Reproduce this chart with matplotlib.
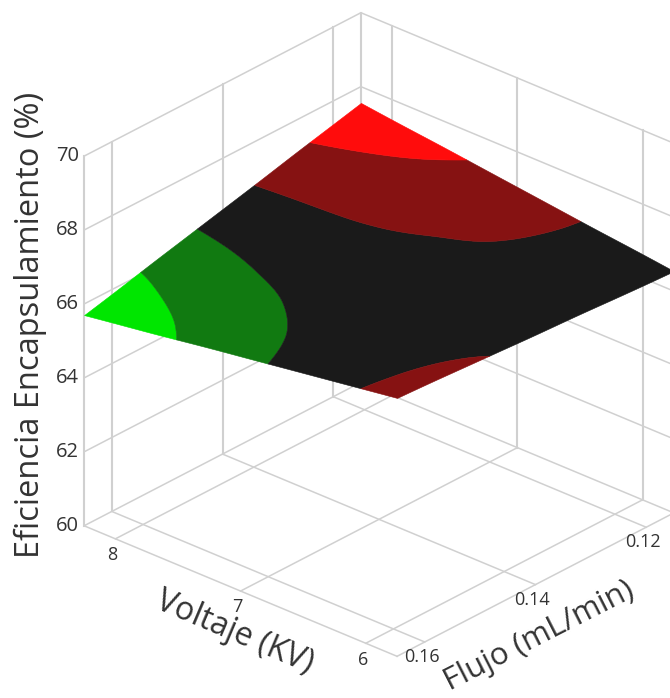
import matplotlib
import matplotlib.tri as mtri
import numpy as np

matplotlib.use("Agg")
import matplotlib.pyplot as plt  # noqa: E402
from mpl_toolkits.mplot3d import proj3d  # noqa: E402
from mpl_toolkits.mplot3d.art3d import Poly3DCollection  # noqa: E402

plt.rcParams["font.family"] = ["Open Sans", "DejaVu Sans"]

# valores
VOLTAJE = [8.25, 7.9375, 7.625, 7.3125, 7.0, 6.6875, 6.375, 6.0625, 5.75]
FLUJO = [0.165, 0.15875, 0.1525, 0.14625, 0.14, 0.13375, 0.1275, 0.12125, 0.115]
EFICIENCIA = [
    [65.70, 65.86, 66.02, 66.19, 66.35, 66.51, 66.67, 66.83, 66.99],
    [65.93, 66.06, 66.18, 66.31, 66.43, 66.56, 66.68, 66.81, 66.94],
    [66.17, 66.25, 66.34, 66.43, 66.52, 66.61, 66.70, 66.79, 66.88],
    [66.40, 66.45, 66.51, 66.56, 66.61, 66.66, 66.71, 66.77, 66.82],
    [66.63, 66.65, 66.67, 66.68, 66.70, 66.71, 66.73, 66.75, 66.76],
    [66.86, 66.84, 66.83, 66.81, 66.78, 66.76, 66.75, 66.73, 66.71],
    [67.10, 67.04, 66.98, 66.93, 66.87, 66.82, 66.76, 66.71, 66.65],
    [67.33, 67.24, 67.15, 67.05, 66.96, 66.87, 66.78, 66.68, 66.59],
    [67.56, 67.43, 67.31, 67.18, 67.05, 66.92, 66.79, 66.67, 66.54],
]
NIVELES = [60, 66.08, 66.46, 66.84, 67.22, 70]
COLORES = ["#00e600", "#117a11", "#1a1a1a", "#861212", "#ff0c0c"]
TICKS_V = [8, 7, 6]
TICKS_F = [0.16, 0.14, 0.12]
TICKS_Z = [60, 62, 64, 66, 68, 70]

GRID = "#d0d0d0"
TEXTO = "#333333"
V_MIN, V_MAX = 5.75, 8.25
F_MIN, F_MAX = 0.115, 0.165
Z_MIN, Z_MAX = 60, 70
ESCALA_F = 50  # deja flujo y voltaje en rangos parecidos para el triangulado


def bandas_superficie():
    """Bandas de color de la superficie como poligonos 3D."""
    vv, ff = np.meshgrid(VOLTAJE, np.array(FLUJO) * ESCALA_F)
    tri = mtri.Triangulation(vv.ravel(), ff.ravel())
    z = np.array(EFICIENCIA).ravel()
    fino, z_fino = mtri.UniformTriRefiner(tri).refine_field(
        z, mtri.CubicTriInterpolator(tri, z, kind="min_E"), subdiv=3)
    interp = mtri.LinearTriInterpolator(fino, z_fino)
    centro = np.array([vv.mean(), ff.mean()])

    fig_aux, ax_aux = plt.subplots()
    bandas = ax_aux.tricontourf(fino, z_fino, levels=NIVELES)
    poligonos = []
    for camino, color in zip(bandas.get_paths(), COLORES):
        for pol in camino.to_polygons():
            if len(pol) < 3:
                continue
            dentro = centro + (pol - centro) * (1 - 1e-6)
            alto = np.ma.filled(interp(dentro[:, 0], dentro[:, 1]), np.nan)
            verts = np.column_stack([pol[:, 0], pol[:, 1] / ESCALA_F, alto])
            poligonos.append((verts, color))
    plt.close(fig_aux)
    return poligonos


def main() -> None:
    poligonos = bandas_superficie()

    fig = plt.figure(figsize=(6.7, 6.98), dpi=100)
    ax = fig.add_axes([18.5 / 670, 3 / 698, 702 / 670, 702 / 698], projection="3d")
    ax.set_proj_type("ortho")
    ax.set_box_aspect((423, 417, 420))
    ax.view_init(elev=27.7, azim=131.9)
    ax.set_xlim(V_MIN, V_MAX, view_margin=0)
    ax.set_ylim(F_MIN, F_MAX, view_margin=0)
    ax.set_zlim(Z_MIN, Z_MAX, view_margin=0)
    ax.set_xticks([])
    ax.set_yticks([])
    ax.set_zticks([])
    ax.set_axis_off()
    ax.patch.set_alpha(0)
    ax.computed_zorder = False

    def linea(xs, ys, zs, lw=1.1):
        ax.plot(xs, ys, zs, color=GRID, lw=lw, zorder=1, clip_on=False)

    def rotulo(x, y, z, texto, **kw):
        # texto 2D en la posicion proyectada del punto 3D
        px, py, _ = proj3d.proj_transform(x, y, z, ax.get_proj())
        ax.text2D(px, py, texto, transform=ax.transData, color=TEXTO, **kw)

    # paredes
    for t in TICKS_Z:
        linea([V_MAX, V_MAX, V_MIN], [F_MAX, F_MIN, F_MIN], [t, t, t])
    for t in TICKS_F + [F_MAX, F_MIN]:
        linea([V_MAX, V_MAX], [t, t], [Z_MIN, Z_MAX], lw=1.5)
    for t in TICKS_V + [V_MIN]:
        linea([t, t], [F_MIN, F_MIN], [Z_MIN, Z_MAX], lw=1.5)
    # suelo
    for t in TICKS_V + [V_MIN]:
        linea([t, t], [F_MAX, F_MIN], [Z_MIN, Z_MIN])
    for t in TICKS_F + [F_MAX]:
        linea([V_MIN, V_MAX], [t, t], [Z_MIN, Z_MIN])

    # superficie
    for verts, color in poligonos:
        ax.add_collection3d(Poly3DCollection(
            [verts], facecolors=color, edgecolors=color, linewidths=0.4, zorder=5))

    # etiquetas de los ejes
    for t in TICKS_V:
        rotulo(t, F_MAX + 0.0005, Z_MIN - 0.16, str(t), fontsize=13, ha="center", va="top")
    for t in TICKS_F:
        rotulo(V_MIN + 0.024, t, Z_MIN - 0.2, f"{t:.2f}", fontsize=13, ha="center", va="top")
    for t in TICKS_Z:
        rotulo(V_MAX + 0.02, F_MAX + 0.00045, t, str(t), fontsize=14.5, ha="right", va="center")

    fig.text(30 / 670, 1 - 325 / 698, "Eficiencia Encapsulamiento (%)", color=TEXTO,
             fontsize=23.5, rotation=90, ha="center", va="center")
    fig.text(235 / 670, 1 - 633 / 698, "Voltaje (KV)", color=TEXTO, fontsize=23,
             rotation=-23, ha="center", va="center", rotation_mode="anchor")
    fig.text(539 / 670, 1 - 636 / 698, "Flujo (mL/min)", color=TEXTO, fontsize=22.5,
             rotation=27, ha="center", va="center", rotation_mode="anchor")

    fig.savefig("out.png", dpi=100)


if __name__ == "__main__":
    main()
